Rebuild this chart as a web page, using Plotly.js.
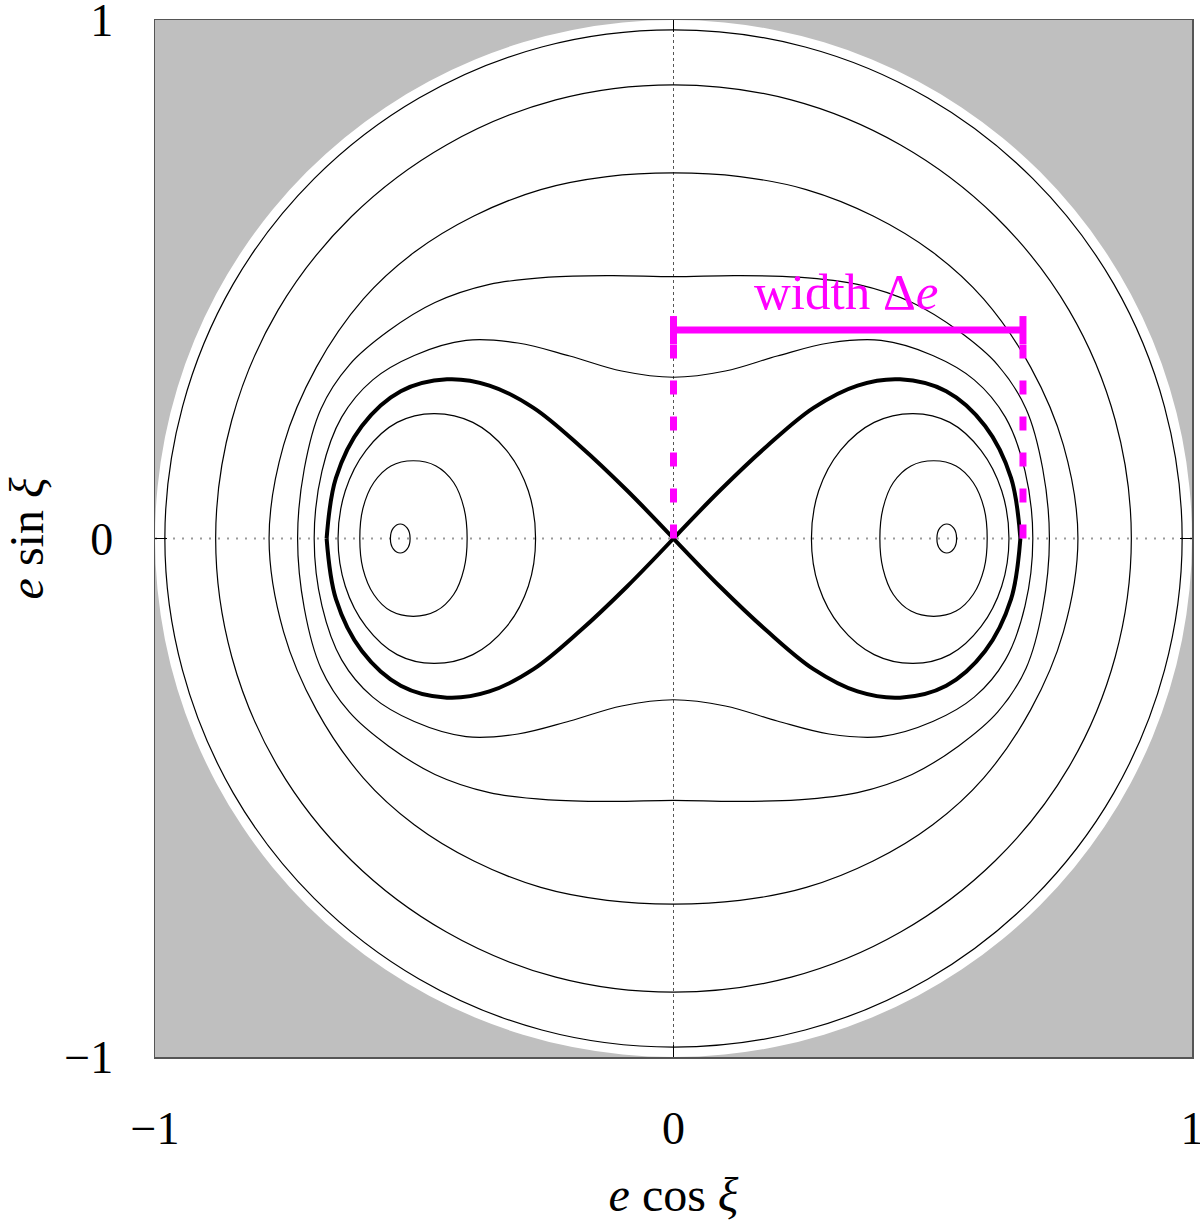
<!DOCTYPE html>
<html>
<head>
<meta charset="utf-8">
<script src="https://cdn.plot.ly/plotly-3.0.1.min.js"></script>
<style>body{margin:0;background:#fff}</style>
</head>
<body>
<div id="plot" style="width:1200px;height:1221px"></div>
<script>
// ---- data (first quadrant, mirrored by symmetry) ----
// circulating curves: points from the y-axis crossing to the x-axis crossing
const C1x = [0, 0.254, 0.490, 0.693, 0.849, 0.947, 0.981];
const C1y = [0.981, 0.948, 0.850, 0.694, 0.491, 0.254, 0];
const C2x = [0, 0.227, 0.438, 0.621, 0.763, 0.852, 0.883];
const C2y = [0.875, 0.846, 0.759, 0.621, 0.440, 0.228, 0];
const C3x = [0, 0.128, 0.256, 0.385, 0.500, 0.598, 0.689, 0.752, 0.780];
const C3y = [0.705, 0.698, 0.673, 0.622, 0.552, 0.462, 0.330, 0.180, 0];
const C4x = [0, 0.120, 0.240, 0.355, 0.460, 0.550, 0.625, 0.680, 0.712, 0.725];
const C4y = [0.505, 0.507, 0.504, 0.490, 0.455, 0.400, 0.335, 0.250, 0.135, 0];
const C5x = [0, 0.100, 0.200, 0.300, 0.400, 0.500, 0.580, 0.640, 0.678, 0.693];
const C5y = [0.311, 0.323, 0.352, 0.377, 0.382, 0.353, 0.306, 0.234, 0.130, 0];
// separatrix (upper half of the right lobe, from the origin outwards)
const Sx = [0, 0.090, 0.180, 0.270, 0.355, 0.437, 0.526, 0.601, 0.651, 0.669];
const Sy = [0, 0.093, 0.178, 0.252, 0.295, 0.307, 0.284, 0.217, 0.117, 0];
// librating curves (upper half of the right island, inner to outer end)
const I1x = [0.266, 0.280, 0.322, 0.387, 0.462, 0.533, 0.593, 0.633, 0.647];
const I1y = [0, 0.092, 0.170, 0.224, 0.241, 0.224, 0.170, 0.092, 0];
const I2x = [0.398, 0.404, 0.424, 0.458, 0.502, 0.545, 0.578, 0.599, 0.605];
const I2y = [0, 0.058, 0.108, 0.140, 0.150, 0.140, 0.108, 0.058, 0];
const I3x = [0.508, 0.5135, 0.527, 0.5405, 0.546];
const I3y = [0, 0.020, 0.028, 0.020, 0];
// resonance width annotation
const eMax = 1;
const widthStart = 0, widthEnd = 0.674, barY = 0.402, capHalf = 0.027;
const widthLabel = 'width Δ<i>e</i>';
const labelPos = [0.333, 0.475];
const tickVals = [-1, 0, 1];
const tickText = ['\u22121', '0', '1'];

// ---- build closed curves by the four-fold symmetry ----
function ring(qx, qy) {
  const X = [], Y = [], n = qx.length;
  for (let i = 0; i < n; i++) { X.push(qx[i]); Y.push(qy[i]); }
  for (let i = n - 2; i >= 0; i--) { X.push(qx[i]); Y.push(-qy[i]); }
  for (let i = 1; i < n; i++) { X.push(-qx[i]); Y.push(-qy[i]); }
  for (let i = n - 2; i >= 0; i--) { X.push(-qx[i]); Y.push(qy[i]); }
  return [X, Y];
}
function loop(hx, hy, s) {
  const X = [], Y = [], n = hx.length;
  for (let i = 0; i < n; i++) { X.push(s * hx[i]); Y.push(hy[i]); }
  for (let i = n - 2; i >= 0; i--) { X.push(s * hx[i]); Y.push(-hy[i]); }
  return [X, Y];
}
const thin = {color: '#000', width: 1.2, shape: 'spline', smoothing: 1};
const thick = {color: '#000', width: 4, shape: 'spline', smoothing: 1};
const traces = [];
// axes through origin
traces.push({x: [0, 0], y: [-eMax, eMax], mode: 'lines', line: {color: '#555', width: 1, dash: '3px,3px'}, hoverinfo: 'skip'});
traces.push({x: [-eMax, eMax], y: [0, 0], mode: 'lines', line: {color: '#9a9a9a', width: 2, dash: '2px,7px'}, hoverinfo: 'skip'});
[[C1x, C1y], [C2x, C2y], [C3x, C3y], [C4x, C4y], [C5x, C5y]].forEach(([a, b]) => {
  const [X, Y] = ring(a, b);
  traces.push({x: X, y: Y, mode: 'lines', line: thin, hoverinfo: 'skip'});
});
[[I1x, I1y], [I2x, I2y], [I3x, I3y]].forEach(([a, b]) => {
  [1, -1].forEach(s => {
    const [X, Y] = loop(a, b, s);
    traces.push({x: X, y: Y, mode: 'lines', line: thin, hoverinfo: 'skip'});
  });
});
// separatrix: four open arcs so that the crossing at the origin stays an X
[1, -1].forEach(sx => {
  [1, -1].forEach(sy => {
    traces.push({x: Sx.map(v => sx * v), y: Sy.map(v => sy * v), mode: 'lines', line: thick, hoverinfo: 'skip'});
  });
});
// magenta width marker
const mag = '#ff00ff';
[widthStart, widthEnd].forEach(xv => {
  traces.push({x: [xv, xv], y: [0, barY], mode: 'lines', line: {color: mag, width: 7, dash: '14px,22px'}, hoverinfo: 'skip'});
  traces.push({x: [xv, xv], y: [barY - capHalf, barY + capHalf], mode: 'lines', line: {color: mag, width: 7}, hoverinfo: 'skip'});
});
traces.push({x: [widthStart, widthEnd], y: [barY, barY], mode: 'lines', line: {color: mag, width: 7}, hoverinfo: 'skip'});

const axisCommon = {
  range: [-eMax, eMax], tickvals: tickVals, ticktext: tickText,
  ticks: 'inside', ticklen: 12, tickwidth: 1, tickcolor: '#000',
  showline: true, linecolor: '#555', linewidth: 1.5, mirror: 'ticks',
  showgrid: false, zeroline: false, fixedrange: true,
  ticklabeloverflow: 'allow',
  tickfont: {family: 'Liberation Serif, serif', size: 46, color: '#000'}
};
const layout = {
  width: 1200, height: 1221,
  margin: {l: 155, r: 8, t: 20, b: 164, pad: 0},
  paper_bgcolor: '#fff', plot_bgcolor: '#bfbfbf',
  showlegend: false,
  font: {family: 'Liberation Serif, serif', size: 46, color: '#000'},
  xaxis: Object.assign({}, axisCommon, {ticklabelstandoff: 30,
    title: {text: '<i>e</i> cos <i>ξ</i>', standoff: 24, font: {family: 'Liberation Serif, serif', size: 48}}}),
  yaxis: Object.assign({}, axisCommon, {ticklabelstandoff: 31,
    title: {text: '<i>e</i> sin <i>ξ</i>', standoff: 22, font: {family: 'Liberation Serif, serif', size: 48}}}),
  shapes: [{type: 'circle', xref: 'x', yref: 'y', x0: -eMax, y0: -eMax, x1: eMax, y1: eMax,
    fillcolor: '#fff', line: {width: 0}, layer: 'below'}],
  annotations: [{x: labelPos[0], y: labelPos[1], xref: 'x', yref: 'y', text: widthLabel, showarrow: false,
    font: {family: 'Liberation Serif, serif', size: 51, color: mag}}]
};
Plotly.newPlot('plot', traces, layout, {displayModeBar: false, staticPlot: true});
</script>
</body>
</html>
